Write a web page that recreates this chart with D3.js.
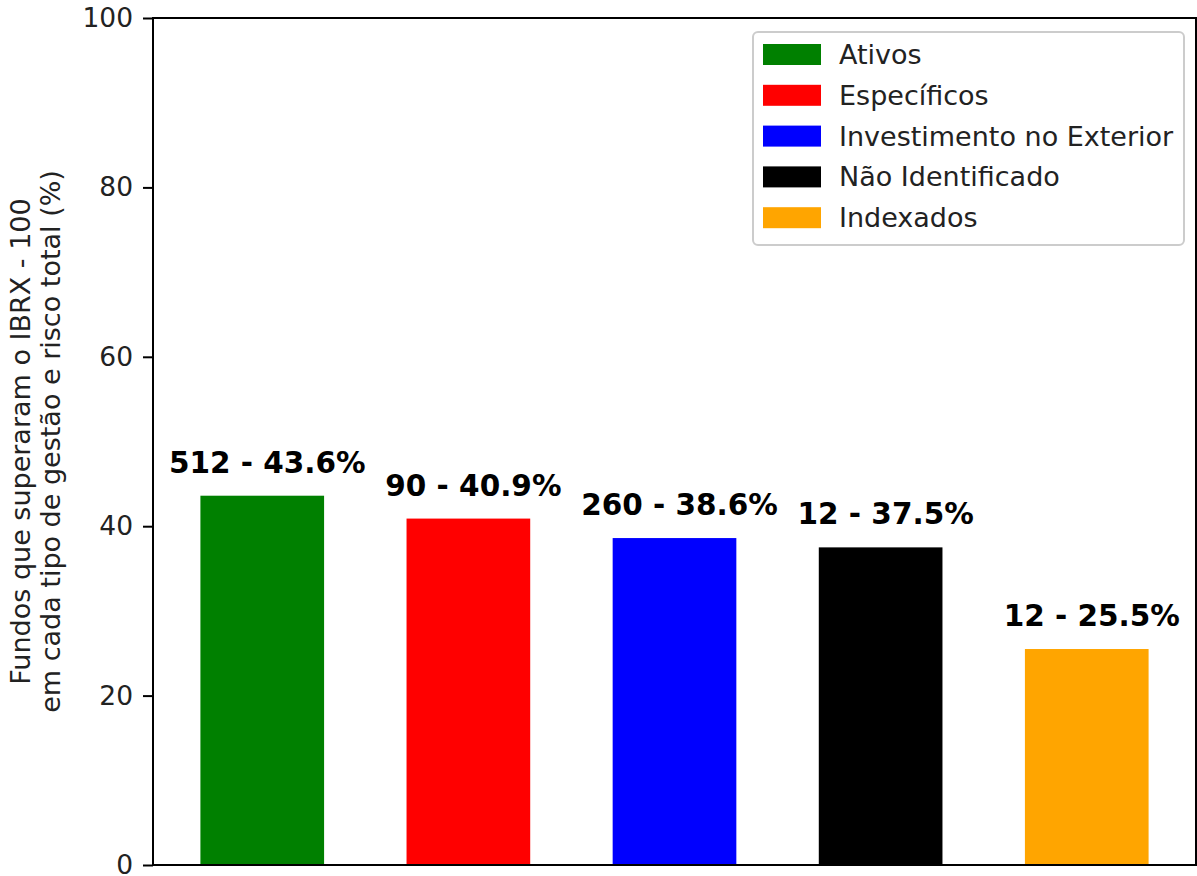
<!DOCTYPE html>
<html>
<head>
<meta charset="utf-8">
<script src="https://cdn.jsdelivr.net/npm/d3@7"></script>
<style>
  body { margin: 0; background: #fff; }
  text { font-family: "DejaVu Sans", sans-serif; }
</style>
</head>
<body>
<svg width="1197" height="876"></svg>
<script>
// DATA

var categories = ["Ativos", "Específicos", "Investimento no Exterior", "Não Identificado", "Indexados"];
var counts = [512, 90, 260, 12, 12];
var percents = [43.6, 40.9, 38.6, 37.5, 25.5];
var colors = ["green", "red", "blue", "black", "orange"];
var yTicks = [0, 20, 40, 60, 80, 100];
var yLabelLines = ["Fundos que superaram o IBRX - 100", "em cada tipo de gestão e risco total (%)"];

// SCALES

var svg = d3.select("svg"),
    plotLeft = 153, plotRight = 1196, plotTop = 18, plotBottom = 865;

var x = d3.scaleLinear()
    .domain([-0.53, categories.length - 1 + 0.53])
    .range([plotLeft, plotRight]);

var y = d3.scaleLinear()
    .domain([0, 100])
    .range([plotBottom, plotTop]);

var barWidth = 0.6;

// BARS

svg.append("g").selectAll("rect")
    .data(percents)
    .enter().append("rect")
      .attr("x", function(d, i) { return x(i - barWidth / 2); })
      .attr("width", function(d, i) { return x(i + barWidth / 2) - x(i - barWidth / 2); })
      .attr("y", function(d) { return y(d); })
      .attr("height", function(d) { return y(0) - y(d); })
      .style("fill", function(d, i) { return colors[i]; });

// bar labels: count - percent (sit a bit right of the bar centre, like the original)
svg.append("g").selectAll("text")
    .data(percents)
    .enter().append("text")
      .attr("x", function(d, i) { return x(i) + 5; })
      .attr("y", function(d) { return y(d) - 23; })
      .attr("text-anchor", "middle")
      .style("font-weight", "bold")
      .style("font-size", "29.5px")
      .text(function(d, i) { return counts[i] + " - " + d + "%"; });

// AXES

var yAxis = svg.append("g")
    .attr("transform", "translate(" + plotLeft + ",0)")
    .call(d3.axisLeft(y).tickValues(yTicks).tickSize(10).tickPadding(10));

yAxis.select(".domain").remove();
yAxis.selectAll("line").attr("stroke", "#000").attr("stroke-width", 2);
yAxis.selectAll("text")
    .style("font-size", "26.5px")
    .style("font-family", "DejaVu Sans")
    .attr("fill", "#222");

// frame around the plot
svg.append("rect")
    .attr("x", plotLeft)
    .attr("y", plotTop)
    .attr("width", plotRight - plotLeft)
    .attr("height", plotBottom - plotTop)
    .style("fill", "none")
    .style("stroke", "#000")
    .style("stroke-width", 2);

// y label, two lines
var yLabel = svg.append("text")
    .attr("transform", "translate(0," + ((plotTop + plotBottom) / 2) + ") rotate(-90)")
    .attr("text-anchor", "middle")
    .style("font-size", "27px")
    .attr("fill", "#222");

yLabel.selectAll("tspan")
    .data(yLabelLines)
    .enter().append("tspan")
      .attr("x", 0)
      .attr("y", function(d, i) { return 30 + i * 30; })
      .text(function(d) { return d; });

// LEGEND

var legend = svg.append("g")
    .attr("transform", "translate(753,32)");

legend.append("rect")
    .attr("width", 431)
    .attr("height", 213)
    .attr("rx", 5)
    .style("fill", "#fff")
    .style("stroke", "#ccc")
    .style("stroke-width", 2);

var item = legend.selectAll(".item")
    .data(categories)
    .enter().append("g")
      .attr("class", "item")
      .attr("transform", function(d, i) { return "translate(0," + (i * 40.8) + ")"; });

item.append("rect")
    .attr("x", 10)
    .attr("y", 12)
    .attr("width", 58)
    .attr("height", 21)
    .style("fill", function(d, i) { return colors[i]; });

item.append("text")
    .attr("x", 86)
    .attr("y", 32)
    .style("font-size", "27px")
    .attr("fill", "#222")
    .text(function(d) { return d; });
</script>
</body>
</html>
